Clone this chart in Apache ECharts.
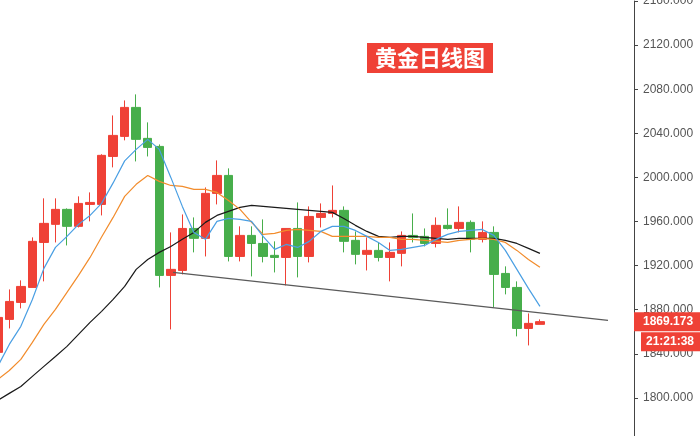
<!DOCTYPE html>
<html>
<head>
<meta charset="utf-8">
<script src="https://cdn.jsdelivr.net/npm/echarts@6/dist/echarts.min.js"></script>
<style>
html,body{margin:0;padding:0;background:#fff;}
#c{width:700px;height:436px;}
</style>
</head>
<body>
<div id="c"></div>
<script>
// ---- data ----
const titleText = '黄金日线图';
const timeText = '21:21:38';
const slotCount = 56;
const categories = Array.from({length: slotCount}, (_, i) => 'D' + (i + 1));

const opens  = [1841.3,1871.2,1886.6,1900.2,1941.0,1957.4,1971.0,1955.6,1975.5,1975.5,2019.0,2037.2,2063.5,2035.4,2028.1,1911.1,1915.6,1953.7,1944.7,1985.5,2001.8,1928.3,1947.4,1940.1,1929.3,1927.4,1953.7,1928.3,1963.7,1967.3,1970.1,1942.9,1930.2,1933.8,1927.4,1931.1,1947.4,1946.5,1940.1,1956.5,1953.7,1959.2,1943.8,1950.1,1912.9,1900.2,1863.0,1866.7];
const closes = [1873.0,1887.5,1901.1,1942.0,1958.3,1971.0,1955.6,1976.4,1977.3,2020.0,2038.1,2063.5,2034.5,2027.2,1911.1,1916.6,1953.7,1944.7,1985.5,2001.8,1928.3,1947.4,1940.1,1928.3,1927.4,1953.7,1928.3,1964.6,1967.3,1970.1,1942.0,1930.2,1933.8,1927.4,1932.0,1947.4,1945.6,1940.1,1956.5,1953.7,1959.2,1943.8,1950.1,1912.0,1900.2,1863.0,1867.6,1869.173];
const lows   = [1838.5,1863.0,1881.2,1900.2,1905.7,1941.0,1938.3,1954.6,1960.1,1965.5,2009.1,2033.6,2014.5,2019.0,1900.2,1862.1,1912.0,1932.0,1928.3,1975.5,1923.8,1923.8,1910.2,1922.9,1913.8,1902.0,1909.3,1922.9,1954.6,1963.7,1932.0,1921.1,1915.6,1923.8,1905.7,1919.3,1941.0,1937.4,1936.5,1952.8,1950.1,1932.0,1941.0,1882.1,1893.9,1855.8,1847.6,1866.7];
const highs  = [1875.7,1898.4,1906.6,1945.6,1981.0,1981.0,1971.9,1982.8,1986.4,2021.0,2056.2,2069.8,2075.3,2049.9,2029.9,1950.1,1966.4,1963.7,1990.9,2015.4,2008.2,1955.6,1955.6,1961.9,1942.0,1953.7,1977.3,1973.7,1976.4,1992.7,1973.7,1951.0,1945.6,1941.0,1941.0,1951.0,1967.3,1953.7,1963.7,1971.9,1973.7,1961.0,1960.1,1955.6,1919.3,1905.7,1876.6,1871.2];

const ma5  = [1828.6,1848.5,1864.9,1889.3,1917.5,1936.5,1946.5,1957.4,1965.5,1976.4,1995.0,2015.0,2025.4,2034.5,2025.4,2000.0,1973.7,1950.1,1943.8,1960.1,1962.8,1961.9,1960.1,1946.5,1934.7,1939.2,1936.5,1942.0,1951.0,1955.6,1955.6,1951.9,1946.5,1941.0,1933.8,1934.7,1936.5,1938.3,1943.8,1948.3,1951.0,1951.9,1952.8,1947.4,1933.8,1916.6,1899.3,1883.0];
const ma10 = [1816.8,1824.9,1834.9,1850.3,1866.7,1880.3,1895.7,1911.1,1927.4,1946.0,1963.7,1982.8,1993.7,2001.8,1996.4,1992.7,1991.8,1989.1,1989.1,1986.4,1979.1,1971.0,1959.2,1948.3,1949.2,1951.9,1952.8,1951.9,1951.0,1946.5,1946.5,1946.5,1946.5,1945.6,1945.6,1943.8,1943.8,1942.9,1942.0,1941.0,1942.9,1943.8,1944.7,1943.8,1941.0,1933.8,1925.6,1918.4];
const ma20 = [1797.7,1804.1,1810.4,1819.5,1828.6,1837.6,1846.7,1857.6,1868.5,1878.5,1889.3,1901.1,1916.6,1925.6,1932.0,1937.4,1943.8,1950.1,1959.2,1965.5,1969.2,1972.8,1974.6,1973.7,1972.8,1971.9,1971.0,1970.1,1969.2,1968.3,1962.8,1956.5,1951.0,1946.5,1945.6,1946.5,1946.5,1945.6,1944.7,1943.8,1944.7,1944.7,1944.7,1944.7,1942.9,1940.1,1935.6,1931.1];

const trendX = [15.2, 52.9];
const trendY = [1913.8, 1870.3];

const yMin = 1760, yMax = 2160, yStep = 40;

// ---- build ----
const RED = '#ef4136', GREEN = '#47ae4b';
const candleData = opens.map((o, i) => [o, closes[i], lows[i], highs[i]]);
const trendData = trendX.map((x, i) => [x, trendY[i]]);

const chart = echarts.init(document.getElementById('c'), null, {renderer: 'canvas'});
const option = {
  animation: false,
  backgroundColor: '#fff',
  title: {
    text: titleText,
    left: 367, top: 43,
    backgroundColor: RED,
    padding: [3, 8, 3, 8],
    textStyle: {color: '#fff', fontSize: 22, fontWeight: 'bold', lineHeight: 24,
      fontFamily: '"Noto Sans CJK SC", sans-serif'}
  },
  grid: {left: -8, top: 1, width: 646, height: 441, outerBoundsMode: 'none', containLabel: false},
  xAxis: [
    {type: 'category', data: categories, show: false, boundaryGap: true},
    {type: 'value', min: -0.5, max: slotCount - 0.5, show: false}
  ],
  yAxis: {
    type: 'value', position: 'right', min: yMin, max: yMax, interval: yStep, offset: -4,
    axisLine: {show: true, onZero: false, lineStyle: {color: '#444', width: 1}},
    axisTick: {show: true, inside: false, length: 4, lineStyle: {color: '#444'}},
    splitLine: {show: false},
    axisLabel: {color: '#555', fontSize: 12, margin: 9, fontFamily: '"Liberation Sans", Arial, sans-serif',
      formatter: v => v.toFixed(3)}
  },
  series: [
    {
      type: 'candlestick', data: candleData, barWidth: 9, z: 3,
      itemStyle: {color: RED, color0: GREEN, borderColor: RED, borderColor0: GREEN, borderWidth: 1}
    },
    {type: 'line', data: ma20, symbol: 'none', z: 4, lineStyle: {color: '#1a1a1a', width: 1.2}},
    {type: 'line', data: ma10, symbol: 'none', z: 4, lineStyle: {color: '#f28c2c', width: 1.2}},
    {type: 'line', data: ma5, symbol: 'none', z: 4, lineStyle: {color: '#4a9fe3', width: 1.2}},
    {type: 'line', xAxisIndex: 1, data: trendData, symbol: 'none', z: 4,
      lineStyle: {color: '#5a5a5a', width: 1.2}}
  ]
};
chart.setOption(option);

const lastPrice = closes[closes.length - 1];
const py = chart.convertToPixel({yAxisIndex: 0}, lastPrice);
chart.setOption({
  graphic: [
    {type: 'text', x: 634, y: py, z: 100,
      style: {text: lastPrice.toFixed(3), fill: '#fff', backgroundColor: RED,
        padding: [3, 20, 3, 9], font: 'bold 12px "Liberation Sans", Arial, sans-serif',
        lineHeight: 13, verticalAlign: 'middle', align: 'left'}},
    {type: 'text', x: 641, y: py + 20, z: 100,
      style: {text: timeText, fill: '#fff', backgroundColor: RED,
        padding: [3, 20, 3, 5], font: 'bold 12px "Liberation Sans", Arial, sans-serif',
        lineHeight: 13, verticalAlign: 'middle', align: 'left'}}
  ]
});
</script>
</body>
</html>
